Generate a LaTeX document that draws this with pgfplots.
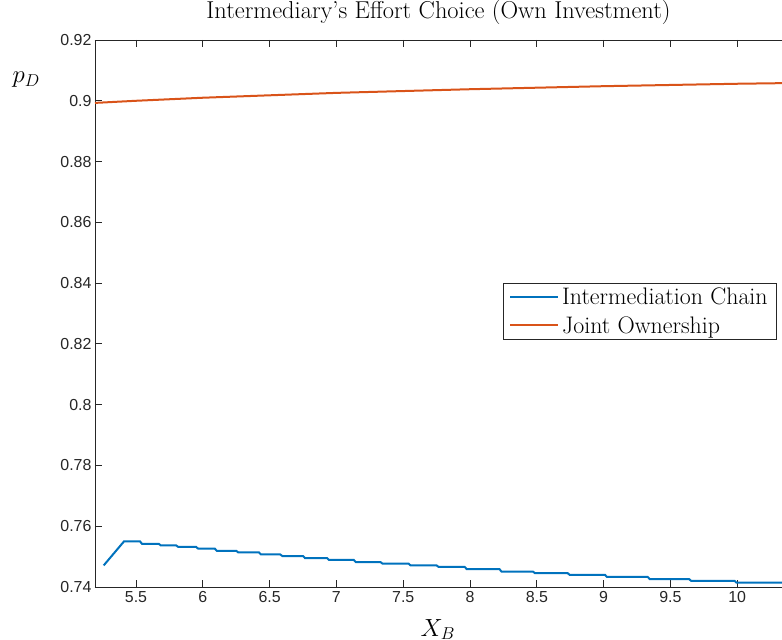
\documentclass[border=0pt]{standalone}
\usepackage{fontspec}
\usepackage{pgfplots}
\pgfplotsset{compat=1.18}
\newfontfamily\arial{Liberation Sans}
\definecolor{mblue}{rgb}{0,0.447,0.741}
\definecolor{morange}{rgb}{0.85,0.325,0.098}
\definecolor{axgray}{rgb}{0.15,0.15,0.15}
\begin{document}
\begin{tikzpicture}
\begin{axis}[
  name=ax,
  scale only axis,
  width=687bp, height=547bp,
  xmin=5.193, xmax=10.335,
  ymin=0.74, ymax=0.92,
  axis x line*=box,
  axis y line*=left,
  axis line style={-, draw=axgray, line width=0.8bp},
  tick align=inside,
  major tick length=7bp,
  tick style={draw=axgray, line width=0.8bp},
  xtick={5.5,6,6.5,7,7.5,8,8.5,9,9.5,10},
  ytick={0.74,0.76,0.78,0.8,0.82,0.84,0.86,0.88,0.9,0.92},
  yticklabel style={/pgf/number format/fixed, /pgf/number format/precision=2},
  /pgf/number format/assume math mode=true,
  ticklabel style={font=\arial\fontsize{16}{18}\selectfont, text=axgray},
  xticklabel style={yshift=-1bp},
  title={Intermediary's Effort Choice (Own Investment)},
  title style={font=\fontsize{24.5}{26}\selectfont, at={(axis description cs:0.5,1.040)}, anchor=center},
  ylabel={$p_D$},
  ylabel style={font=\fontsize{25}{26}\selectfont, rotate=-90, at={(axis description cs:-0.100,0.927)}, anchor=center},
  xlabel={$X_B$},
  xlabel style={font=\fontsize{26}{28}\selectfont, at={(axis description cs:0.499,-0.078)}, anchor=center},
  legend style={at={(axis description cs:0.9927,0.556)}, anchor=north east,
    font=\fontsize{24}{26}\selectfont, draw=axgray, line width=0.6bp,
    row sep=10bp, inner xsep=6bp, inner ysep=5bp,
    nodes={inner xsep=3bp, inner ysep=0bp}},
  legend cell align=left,
  legend image code/.code={\draw[#1, line width=2bp] (0bp,0bp) -- (48bp,0bp);},
]
\addplot[mblue, line width=2bp] coordinates {
(5.258,0.7471) (5.41,0.7550) (5.53,0.7550) (5.545,0.7542) (5.67,0.7542) (5.685,0.7537)
(5.80,0.7537) (5.815,0.7532) (5.95,0.7532) (5.965,0.7526) (6.09,0.7526) (6.105,0.7519)
(6.25,0.7519) (6.265,0.7514) (6.42,0.7514) (6.435,0.7507) (6.58,0.7507) (6.595,0.7502)
(6.75,0.7502) (6.765,0.7495) (6.93,0.7495) (6.945,0.7489) (7.13,0.7489) (7.145,0.7482)
(7.33,0.7482) (7.345,0.7477) (7.54,0.7477) (7.555,0.7471) (7.75,0.7471) (7.765,0.7466)
(7.96,0.7466) (7.975,0.7459) (8.22,0.7459) (8.235,0.7451) (8.47,0.7451) (8.485,0.7446)
(8.73,0.7446) (8.745,0.7440) (9.01,0.7440) (9.025,0.7433) (9.33,0.7433) (9.345,0.7426)
(9.64,0.7426) (9.655,0.7420) (9.98,0.7420) (9.995,0.7414) (10.34,0.7414)
};
\addlegendentry{Intermediation Chain}
\addplot[morange, line width=2bp] coordinates {
(5.193,0.8993) (5.5,0.9000) (6,0.9010) (6.5,0.9018) (7,0.9026) (7.5,0.9032)
(8,0.9038) (8.5,0.9043) (9,0.9048) (9.5,0.9052) (10,0.9056) (10.34,0.9058)
};
\addlegendentry{Joint Ownership}
\end{axis}
\pgfresetboundingbox
\path[use as bounding box] ([xshift=-95bp,yshift=-53bp]ax.south west) rectangle ([yshift=40bp]ax.north east);
\end{tikzpicture}
\end{document}
